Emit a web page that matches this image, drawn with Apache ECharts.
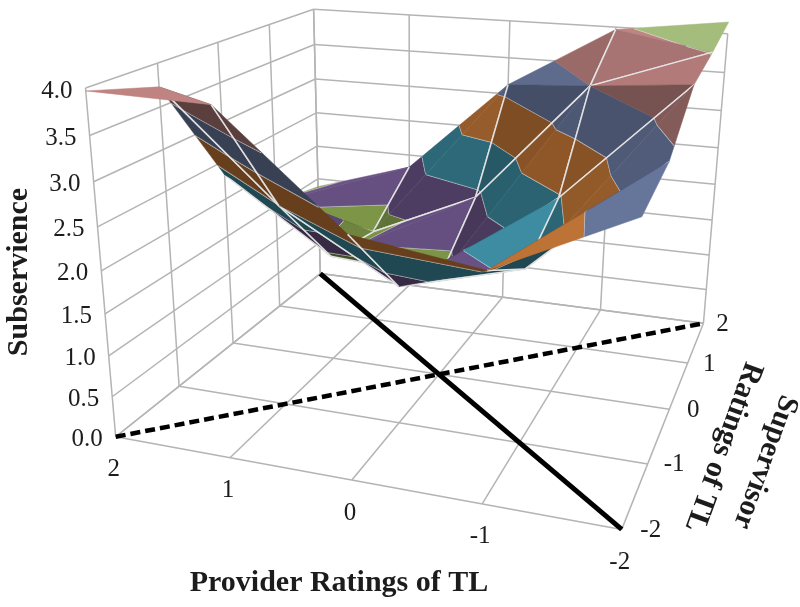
<!DOCTYPE html>
<html>
<head>
<meta charset="utf-8">
<style>html,body{margin:0;padding:0;background:#fff}#main{width:800px;height:607px}</style>
<script src="https://cdn.jsdelivr.net/npm/echarts@6/dist/echarts.min.js"></script>
</head>
<body>
<div id="main"></div>
<script>
// axis ticks
var providerTicks = [2, 1, 0, -1, -2];
var supervisorTicks = [-2, -1, 0, 1, 2];
var subservienceTicks = [0, 0.5, 1, 1.5, 2, 2.5, 3, 3.5, 4];

// subservience for supervisor -2..2, one list per provider rating
var provider2 = [3.97, 3.73, 2.32, 1.55, 1.38];
var provider1 = [3.94, 2.48, 1.40, 1.28, 1.82];
var provider0 = [2.75, 1.69, 1.30, 1.92, 3.13];
var providerM1 = [2.55, 2.08, 2.47, 3.50, 3.97];
var providerM2 = [3.25, 3.40, 3.90, 4.01, 4.15];
var surface = [provider2, provider1, provider0, providerM1, providerM2];

// cells that fold along the other diagonal than their higher one
var otherDiagonalCells = ['0,1', '1,0', '2,0'];

// one colour per 0.5 band, from 0 upwards
var bandColors = ['#4F81BD', '#C0504D', '#9BBB59', '#8064A2', '#4BACC6', '#F79646', '#8598C8', '#D99694', '#BBD68D'];

// perspective of the box, fitted from where its corners sit on the page
var boxCorners = [
    [[2, -2, 0], [115, 438]], [[-2, -2, 0], [622, 528]], [[-2, 2, 0], [703, 325]], [[2, 2, 0], [321, 272]],
    [[2, -2, 4], [86, 88]], [[2, 2, 4], [313, 10]], [[-2, 2, 4], [728, 33]]
];

function fitCamera(pairs) {
    var rows = [], rhs = [];
    pairs.forEach(function (p) {
        var X = p[0][0], Y = p[0][1], Z = p[0][2], x = p[1][0], y = p[1][1];
        rows.push([X, Y, Z, 1, 0, 0, 0, 0, -x * X, -x * Y, -x * Z]); rhs.push(x);
        rows.push([0, 0, 0, 0, X, Y, Z, 1, -y * X, -y * Y, -y * Z]); rhs.push(y);
    });
    var n = 11, A = [];
    for (var i = 0; i < n; i++) {
        A[i] = [];
        for (var j = 0; j <= n; j++) {
            var s = 0;
            rows.forEach(function (r, k) { s += r[i] * (j < n ? r[j] : rhs[k]); });
            A[i][j] = s;
        }
    }
    for (i = 0; i < n; i++) {
        var best = i;
        for (j = i + 1; j < n; j++) if (Math.abs(A[j][i]) > Math.abs(A[best][i])) best = j;
        var t = A[i]; A[i] = A[best]; A[best] = t;
        for (j = 0; j < n; j++) {
            if (j === i) continue;
            var f = A[j][i] / A[i][i];
            for (var k = i; k <= n; k++) A[j][k] -= f * A[i][k];
        }
    }
    return A.map(function (r, idx) { return r[n] / r[idx]; });
}
var cam = fitCamera(boxCorners);

function depth(p) { return cam[8] * p[0] + cam[9] * p[1] + cam[10] * p[2] + 1; }
function project(p) {
    var w = depth(p);
    return [(cam[0] * p[0] + cam[1] * p[1] + cam[2] * p[2] + cam[3]) / w,
            (cam[4] * p[0] + cam[5] * p[1] + cam[6] * p[2] + cam[7]) / w];
}

function clipAbove(poly, level, keepAbove) {
    var out = [];
    poly.forEach(function (a, i) {
        var b = poly[(i + 1) % poly.length];
        var ina = keepAbove ? a[2] >= level : a[2] <= level;
        var inb = keepAbove ? b[2] >= level : b[2] <= level;
        if (ina) out.push(a);
        if (ina !== inb) {
            var t = (level - a[2]) / (b[2] - a[2]);
            out.push([a[0] + t * (b[0] - a[0]), a[1] + t * (b[1] - a[1]), level]);
        }
    });
    return out;
}

function shadeColor(hex, f) {
    var c = echarts.color.parse(hex);
    return 'rgb(' + Math.round(c[0] * f) + ',' + Math.round(c[1] * f) + ',' + Math.round(c[2] * f) + ')';
}

function screenArea(pts) {
    var a = project(pts[0]), b = project(pts[1]), c = project(pts[2]);
    return (b[0] - a[0]) * (c[1] - a[1]) - (b[1] - a[1]) * (c[0] - a[0]);
}

// flatter faces are lighter, faces seen from below stay dark
function triangleShade(t) {
    var floor = t.map(function (p) { return [p[0], p[1], 0]; });
    if (screenArea(t) * screenArea(floor) < 0) return 0.42;
    var ux = t[1][0] - t[0][0], uy = t[1][1] - t[0][1], uz = t[1][2] - t[0][2];
    var vx = t[2][0] - t[0][0], vy = t[2][1] - t[0][1], vz = t[2][2] - t[0][2];
    var nx = uy * vz - uz * vy, ny = uz * vx - ux * vz, nz = ux * vy - uy * vx;
    var up = Math.abs(nz) / Math.sqrt(nx * nx + ny * ny + nz * nz);
    return Math.max(0.5, 0.55 + (up - 0.5) * 0.7);
}

function vertex(i, j) { return [providerTicks[i], supervisorTicks[j], surface[i][j]]; }

// split every cell along its higher diagonal
var triangles = [];
for (var i = 0; i < 4; i++) {
    for (var j = 0; j < 4; j++) {
        var a = [i, j], b = [i + 1, j], c = [i + 1, j + 1], d = [i, j + 1];
        var z = function (q) { return surface[q[0]][q[1]]; };
        var higher = z(a) + z(c) > z(b) + z(d);
        if (otherDiagonalCells.indexOf(i + ',' + j) >= 0) higher = !higher;
        if (higher) {
            triangles.push([a, b, c], [a, c, d]);
        } else {
            triangles.push([a, b, d], [b, c, d]);
        }
    }
}
triangles.forEach(function (t) {
    t.pts = t.map(function (q) { return vertex(q[0], q[1]); });
    t.depth = depth([(t.pts[0][0] + t.pts[1][0] + t.pts[2][0]) / 3, (t.pts[0][1] + t.pts[1][1] + t.pts[2][1]) / 3, (t.pts[0][2] + t.pts[1][2] + t.pts[2][2]) / 3]);
});
triangles.sort(function (p, q) { return q.depth - p.depth; });

var meshColor = 'rgba(232,232,232,0.95)';
var pieces = [];
triangles.forEach(function (t) {
    var shade = triangleShade(t.pts);
    bandColors.forEach(function (col, k) {
        var poly = clipAbove(t.pts, k * 0.5, true);
        if (k < bandColors.length - 1 && poly.length) poly = clipAbove(poly, (k + 1) * 0.5, false);
        if (poly.length > 2) pieces.push({ poly: poly, color: shadeColor(col, shade) });
        // contour between this band and the next one
        var level = (k + 1) * 0.5, seg = [];
        t.pts.forEach(function (p, n) {
            var q = t.pts[(n + 1) % 3];
            if ((p[2] - level) * (q[2] - level) < 0) {
                var s = (level - p[2]) / (q[2] - p[2]);
                seg.push([p[0] + s * (q[0] - p[0]), p[1] + s * (q[1] - p[1]), level]);
            }
        });
        if (seg.length === 2) pieces.push({ line: seg });
    });
    // grid edges of the surface, not the diagonal and not the outer rim
    t.forEach(function (q, n) {
        var r = t[(n + 1) % 3];
        var along = (q[0] === r[0]) !== (q[1] === r[1]);
        var rim = (q[0] === r[0] && (q[0] === 0 || q[0] === 4)) || (q[1] === r[1] && (q[1] === 0 || q[1] === 4));
        if (along && !rim) pieces.push({ line: [t.pts[n], t.pts[(n + 1) % 3]] });
    });
});

// floor and wall grid
var gridSegments = [];
supervisorTicks.forEach(function (s) {
    gridSegments.push([[2, s, 0], [-2, s, 0]]);
    gridSegments.push([[2, s, 0], [2, s, 4]]);
});
providerTicks.forEach(function (p) {
    gridSegments.push([[p, -2, 0], [p, 2, 0]]);
    gridSegments.push([[p, 2, 0], [p, 2, 4]]);
});
subservienceTicks.forEach(function (v) {
    gridSegments.push([[2, -2, v], [2, 2, v]]);
    gridSegments.push([[2, 2, v], [-2, 2, v]]);
});

function lineEl(api, seg, style) {
    var p = api.coord(project(seg[0])), q = api.coord(project(seg[1]));
    return { type: 'line', silent: true, shape: { x1: p[0], y1: p[1], x2: q[0], y2: q[1] }, style: style };
}

var labelFont = '25px "Liberation Serif"';
var titleFont = 'bold 30px "Liberation Serif"';

function textEl(api, pos, text, font, align, rotation) {
    var p = api.coord(pos);
    return {
        type: 'text', silent: true, x: p[0], y: p[1], rotation: rotation || 0,
        style: { text: text, font: font, fill: '#1c1c1c', align: align || 'center', verticalAlign: 'middle' }
    };
}

var tickLabels = [];
subservienceTicks.forEach(function (v) {
    var p = project([2, -2, v]);
    tickLabels.push({ pos: [p[0] - 13, p[1] + 3], text: v.toFixed(1), align: 'right' });
});
providerTicks.forEach(function (v) {
    var p = project([v, -2, 0]);
    tickLabels.push({ pos: [p[0] - 2, p[1] + 33], text: String(v) });
});
supervisorTicks.forEach(function (v) {
    var p = project([-2, v, 0]);
    tickLabels.push({ pos: [p[0] + 29 - 2.5 * (v + 2), p[1] + 1], text: String(v) });
});

var titles = [
    { pos: [19, 272], text: 'Subservience', rotation: Math.PI / 2 },
    { pos: [339, 583], text: 'Provider Ratings of TL', rotation: 0 },
    { pos: [765, 462], text: 'Supervisor', rotation: -110 * Math.PI / 180 },
    { pos: [723, 447], text: 'Ratings of TL', rotation: -110 * Math.PI / 180 }
];

function customSeries(list, render, z) {
    return {
        type: 'custom', coordinateSystem: 'cartesian2d', clip: false, silent: true, z: z,
        animation: false, progressive: 0,
        data: list.map(function (_, idx) { return [idx]; }),
        encode: { x: 0, y: 0 },
        renderItem: function (params, api) { return render(list[api.value(0)], api); }
    };
}

var chart = echarts.init(document.getElementById('main'));
chart.setOption({
    animation: false,
    backgroundColor: '#fff',
    grid: { left: 0, right: 0, top: 0, bottom: 0 },
    xAxis: { type: 'value', min: 0, max: 800, show: false },
    yAxis: { type: 'value', min: 0, max: 607, inverse: true, show: false },
    series: [
        customSeries(gridSegments, function (seg, api) {
            return lineEl(api, seg, { stroke: '#b4b4b4', lineWidth: 1.5 });
        }, 1),
        customSeries([
            { seg: [[2, -2, 0], [-2, 2, 0]], dash: [10, 5], width: 4.5 },
            { seg: [[2, 2, 0], [-2, -2, 0]], dash: null, width: 5 }
        ], function (d, api) {
            return lineEl(api, d.seg, { stroke: '#000', lineWidth: d.width, lineDash: d.dash });
        }, 2),
        customSeries(pieces, function (piece, api) {
            if (piece.line) return lineEl(api, piece.line, { stroke: meshColor, lineWidth: 1.5 });
            return {
                type: 'polygon', silent: true,
                shape: { points: piece.poly.map(function (p) { return api.coord(project(p)); }) },
                style: { fill: piece.color, stroke: piece.color, lineWidth: 0.5 }
            };
        }, 3),
        customSeries(tickLabels, function (d, api) {
            return textEl(api, d.pos, d.text, labelFont, d.align);
        }, 4),
        customSeries(titles, function (d, api) {
            return textEl(api, d.pos, d.text, titleFont, 'center', d.rotation);
        }, 4)
    ]
});
</script>
</body>
</html>
